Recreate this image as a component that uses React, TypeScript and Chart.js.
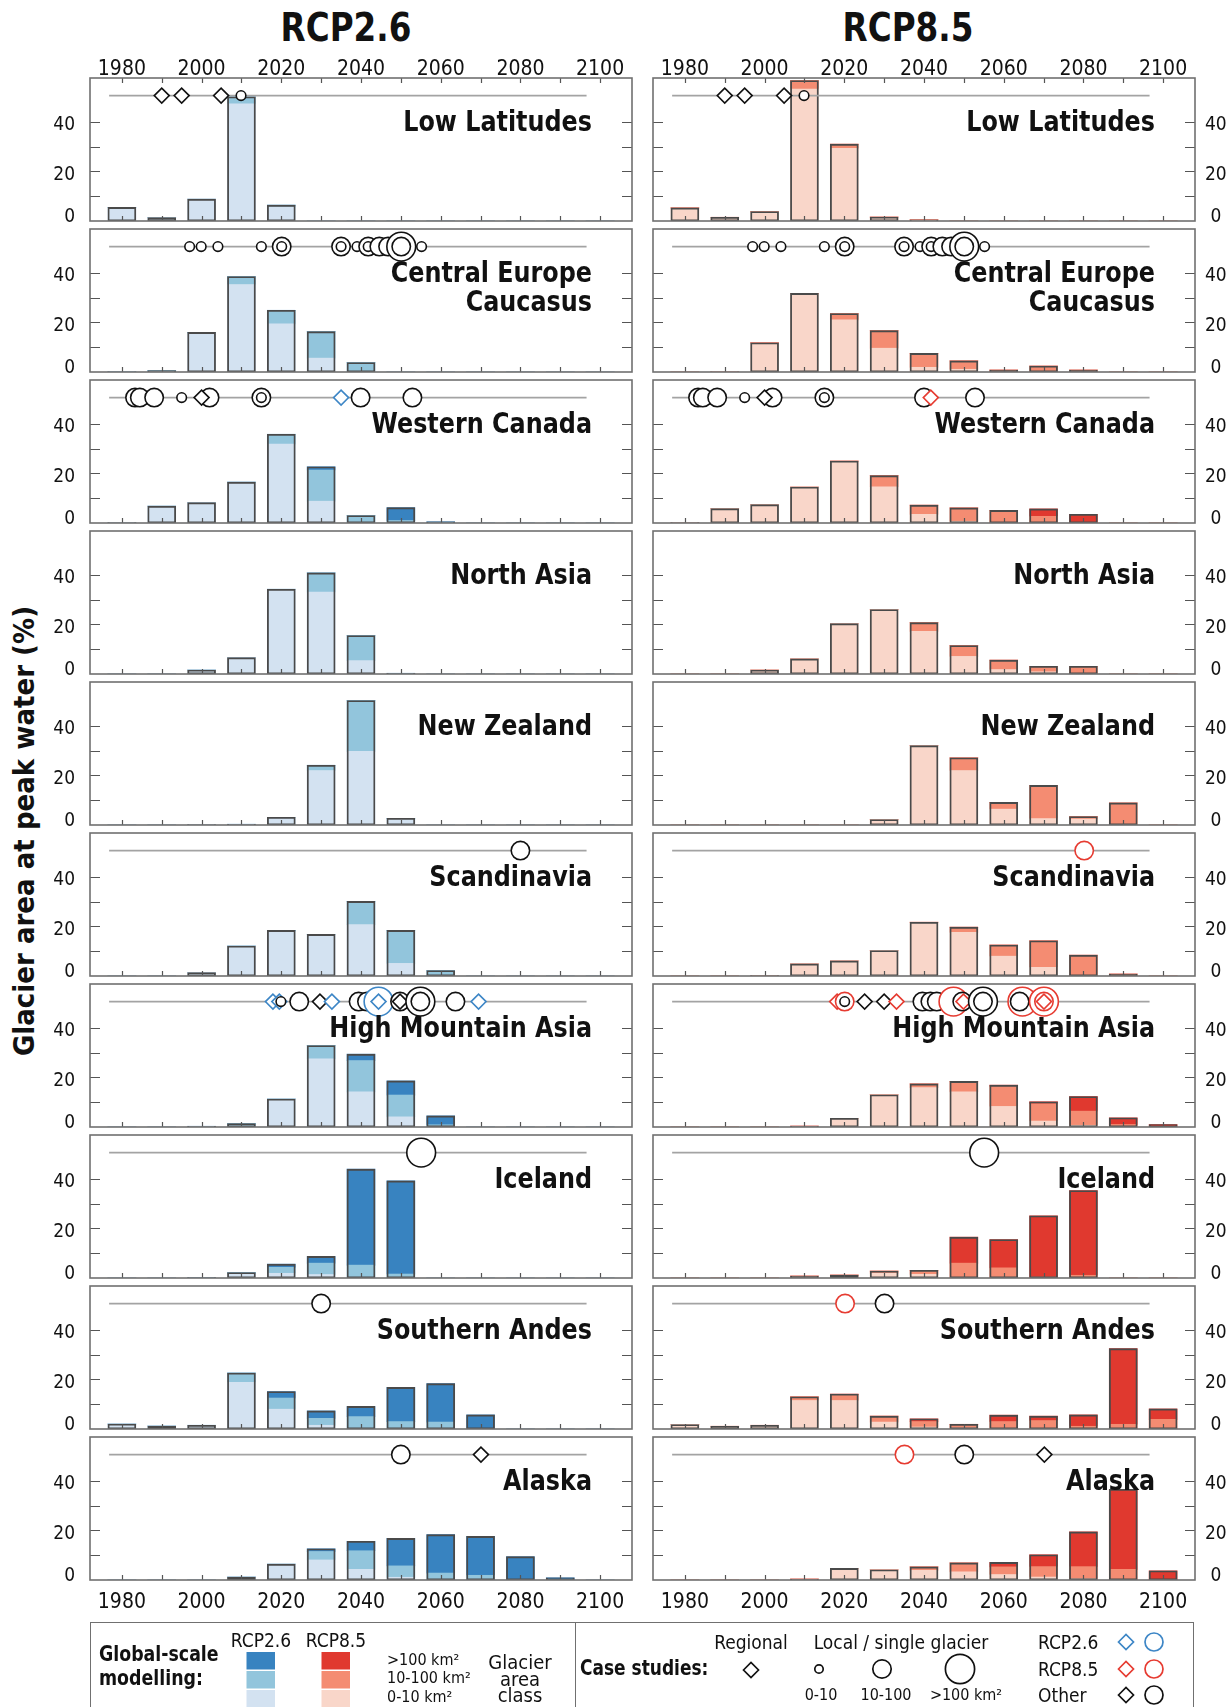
import React, { useEffect, useRef } from 'react';
import { Chart, registerables } from 'chart.js';

Chart.register(...registerables);

const FONT = '"Liberation Sans Narrow", "DejaVu Sans Condensed", "Roboto Condensed", "Arial Narrow", "Liberation Sans", sans-serif';

// ---------- data ----------
const DECADES = [1980, 1990, 2000, 2010, 2020, 2030, 2040, 2050, 2060, 2070, 2080, 2090, 2100];
const X_LABELS = [1980, 2000, 2020, 2040, 2060, 2080, 2100];
const Y_LABELS = [0, 20, 40];
const Y_MINOR = [10, 20, 30, 40];
const X_RANGE = [1972, 2108];
const Y_RANGE = [0, 57.7];
const CASE_Y = 50.6;
const CASE_LINE = [1976.8, 2096.6];

const CLASSES = ['0-10 km²', '10-100 km²', '>100 km²'];
const BLUES = ['#d3e2f1', '#92c5dc', '#3883c0'];
const REDS = ['#f9d6c9', '#f48c72', '#e0392f'];
const CASE_COLORS: Record<string, string> = { k: '#111111', b: '#3d86c6', r: '#e63b31' };
const CASE_RADII: Record<string, number> = { s: 4.8, m: 9.2, l: 14.4, d: 7.5 };

const REGIONS = ['Low Latitudes', 'Central Europe\nCaucasus', 'Western Canada', 'North Asia', 'New Zealand', 'Scandinavia', 'High Mountain Asia', 'Iceland', 'Southern Andes', 'Alaska'];

// bars per decade: [0-10 km², 10-100 km², >100 km²]
const LOW_LAT_26 = [
  [5.5, 1.35, 8.8, 47.3, 5.7, 0, 0, 0, 0, 0, 0, 0, 0],
  [0, 0, 0, 2.8, 0.7, 0, 0, 0, 0, 0, 0, 0, 0],
  [0, 0, 0, 0, 0, 0, 0, 0, 0, 0, 0, 0, 0],
];
const LOW_LAT_85 = [
  [5.1, 1.5, 3.6, 53.2, 29.3, 1.5, 0.3, 0, 0, 0, 0, 0, 0],
  [0.2, 0, 0.2, 3.5, 1.7, 0.1, 0.2, 0, 0, 0, 0, 0, 0],
  [0, 0, 0, 0, 0, 0, 0, 0, 0, 0, 0, 0, 0],
];
const CEN_EUR_26 = [
  [0, 0.3, 15.6, 35.3, 19.4, 5.6, 0.3, 0, 0, 0, 0, 0, 0],
  [0.1, 0.3, 0.4, 3.2, 5.5, 10.7, 3.5, 0, 0, 0, 0, 0, 0],
  [0, 0, 0, 0, 0, 0, 0, 0, 0, 0, 0, 0, 0],
];
const CEN_EUR_85 = [
  [0, 0.1, 11.5, 31.5, 21.0, 9.6, 1.9, 1.1, 0.1, 0.3, 0.1, 0, 0],
  [0, 0, 0.3, 0.2, 2.6, 7.1, 5.6, 3.4, 0.7, 2.1, 0.7, 0, 0],
  [0, 0, 0, 0, 0, 0, 0, 0, 0, 0, 0, 0, 0],
];
const W_CAN_26 = [
  [0.2, 6.8, 8.2, 16.0, 31.8, 8.8, 0.3, 0.3, 0, 0, 0, 0, 0],
  [0, 0, 0, 0.5, 4.0, 12.6, 2.7, 0.7, 0.1, 0, 0, 0, 0],
  [0, 0, 0, 0, 0, 1.3, 0, 5.2, 0.4, 0, 0, 0, 0],
];
const W_CAN_85 = [
  [0.2, 5.8, 7.4, 14.5, 24.7, 14.6, 3.5, 0.7, 0.2, 0.1, 0, 0, 0],
  [0, 0, 0, 0, 0.3, 4.5, 3.7, 5.4, 4.9, 2.6, 0.3, 0, 0],
  [0, 0, 0, 0, 0, 0, 0, 0, 0, 3.0, 3.2, 0, 0],
];
const N_ASIA_26 = [
  [0, 0, 1.6, 6.6, 34.2, 33.1, 5.4, 0, 0, 0, 0, 0, 0],
  [0, 0, 0, 0, 0, 7.7, 10.1, 0.1, 0, 0, 0, 0, 0],
  [0, 0, 0, 0, 0, 0, 0, 0.2, 0, 0, 0, 0, 0],
];
const N_ASIA_85 = [
  [0, 0, 1.6, 6.1, 20.3, 26.0, 17.2, 7.1, 1.8, 0.9, 0.2, 0, 0],
  [0, 0, 0, 0, 0, 0, 3.5, 4.4, 3.8, 2.2, 2.9, 0, 0],
  [0, 0, 0, 0, 0, 0, 0, 0, 0, 0, 0, 0, 0],
];
const NZ_26 = [
  [0, 0, 0.2, 0.1, 3.1, 22.0, 29.7, 2.4, 0, 0, 0, 0, 0],
  [0, 0, 0, 0.2, 0, 2.1, 20.5, 0.3, 0, 0, 0, 0, 0],
  [0, 0, 0, 0, 0, 0, 0, 0, 0, 0, 0, 0, 0],
];
const NZ_85 = [
  [0, 0, 0, 0, 0, 2.2, 32.0, 22.0, 6.4, 2.6, 2.4, 0, 0],
  [0, 0, 0, 0, 0, 0, 0, 5.1, 2.7, 13.4, 1.0, 8.9, 0],
  [0, 0, 0, 0, 0, 0, 0, 0, 0, 0, 0, 0, 0],
];
const SCAN_26 = [
  [0, 0, 1.4, 12.1, 18.0, 16.8, 20.7, 5.1, 0, 0, 0, 0, 0],
  [0, 0, 0, 0, 0.4, 0, 9.4, 13.3, 2.2, 0, 0, 0, 0],
  [0, 0, 0, 0, 0, 0, 0, 0, 0, 0, 0, 0, 0],
];
const SCAN_85 = [
  [0, 0, 0.1, 4.9, 6.1, 10.3, 21.7, 17.6, 8.0, 3.5, 0, 0, 0],
  [0, 0, 0.1, 0, 0, 0, 0, 2.1, 4.5, 10.7, 8.4, 0.8, 0],
  [0, 0, 0, 0, 0, 0, 0, 0, 0, 0, 0, 0, 0],
];
const HMA_26 = [
  [0, 0, 0.1, 0.4, 11.3, 27.5, 14.2, 4.1, 0.2, 0, 0, 0, 0],
  [0, 0, 0.1, 1.0, 0, 5.4, 12.6, 8.8, 0.7, 0, 0, 0, 0],
  [0, 0, 0.1, 0, 0, 0, 2.6, 5.7, 3.6, 0, 0, 0, 0],
];
const HMA_85 = [
  [0, 0, 0, 0.2, 3.5, 13.0, 15.9, 14.2, 8.3, 2.4, 0.7, 0.2, 0],
  [0, 0, 0, 0.1, 0, 0, 1.5, 4.2, 8.1, 7.0, 5.7, 0.8, 0],
  [0, 0, 0, 0.1, 0, 0, 0, 0, 0.5, 0.8, 5.9, 2.7, 1.0],
];
const ICE_26 = [
  [0, 0, 0, 1.6, 1.9, 1.4, 0, 0, 0, 0, 0, 0, 0],
  [0, 0, 0.1, 0.6, 2.4, 4.6, 5.2, 1.6, 0, 0, 0, 0, 0],
  [0, 0, 0.1, 0, 1.3, 2.7, 38.7, 37.6, 0, 0, 0, 0, 0],
];
const ICE_85 = [
  [0, 0, 0, 0.5, 0.8, 1.9, 1.5, 0, 0, 0, 0, 0, 0],
  [0, 0, 0, 0.3, 0.4, 0.9, 1.6, 6.0, 4.1, 0.4, 1.1, 0, 0],
  [0, 0, 0, 0, 0, 0, 0, 10.5, 11.4, 24.7, 34.2, 0, 0],
];
const S_ANDES_26 = [
  [2.0, 1.2, 1.5, 18.8, 8.0, 1.5, 0.2, 0, 0, 0, 0, 0, 0],
  [0, 0, 0, 3.8, 4.5, 2.8, 4.8, 3.0, 2.8, 0.2, 0, 0, 0],
  [0, 0, 0, 0, 2.6, 3.0, 4.1, 13.8, 15.5, 5.5, 0, 0, 0],
];
const S_ANDES_85 = [
  [1.8, 1.1, 1.5, 11.5, 11.5, 2.8, 0.8, 0.4, 0.3, 0.3, 0, 0, 0],
  [0, 0, 0, 1.5, 2.3, 2.4, 2.2, 1.5, 2.7, 3.1, 1.1, 1.9, 3.9],
  [0, 0, 0, 0, 0.3, 0, 1.1, 0, 2.6, 1.8, 4.6, 30.5, 4.2],
];
const ALASKA_26 = [
  [0, 0, 0, 1.2, 6.4, 8.1, 4.3, 1.1, 0, 0, 0, 0, 0],
  [0, 0, 0, 0, 0, 3.4, 7.5, 4.6, 2.8, 1.9, 0.3, 0, 0],
  [0, 0, 0, 0, 0, 1.1, 3.8, 11.1, 15.5, 15.7, 9.1, 0.9, 0],
];
const ALASKA_85 = [
  [0, 0, 0, 0.2, 4.7, 4.1, 3.9, 3.3, 2.2, 1.2, 0.5, 0, 0],
  [0, 0, 0, 0.2, 0, 0, 1.4, 3.6, 3.1, 4.2, 4.9, 4.3, 0],
  [0, 0, 0, 0, 0, 0, 0, 0, 1.8, 4.8, 14.0, 32.3, 3.7],
];

// case studies: [year, colour (k other / b RCP2.6 / r RCP8.5) + kind (s,m,l circle sizes, d regional)]
type Case = [number, string];
const LOW_LAT_CASES: Case[] = [[1990, 'kd'], [1995, 'kd'], [2004.9, 'kd'], [2009.9, 'ks']];
const CEN_EUR_CASES: Case[] = [
  [1997.0, 'ks'], [1999.9, 'ks'], [2004.1, 'ks'], [2015.0, 'ks'], [2020.1, 'km'], [2020.1, 'ks'],
  [2035.0, 'km'], [2035.0, 'ks'], [2039.0, 'ks'], [2041.8, 'km'], [2041.8, 'ks'], [2044.6, 'km'],
  [2046.8, 'km'], [2050.1, 'kl'], [2050.1, 'km'], [2055.2, 'ks'],
];
const W_CAN_CASES_26: Case[] = [
  [1983.3, 'km'], [1984.5, 'km'], [1988.1, 'km'], [1995.0, 'ks'], [2002.0, 'km'], [2000.0, 'kd'],
  [2015.0, 'km'], [2015.0, 'ks'], [2035.0, 'bd'], [2039.9, 'km'], [2052.9, 'km'],
];
const W_CAN_CASES_85: Case[] = [
  [1983.3, 'km'], [1984.5, 'km'], [1988.1, 'km'], [1995.0, 'ks'], [2002.0, 'km'], [2000.0, 'kd'],
  [2015.0, 'km'], [2015.0, 'ks'], [2040.0, 'km'], [2041.7, 'rd'], [2052.8, 'km'],
];
const SCAN_CASES_26: Case[] = [[2080.0, 'km']];
const SCAN_CASES_85: Case[] = [[2080.2, 'rm']];
const HMA_CASES_26: Case[] = [
  [2017.9, 'bd'], [2019.5, 'bd'], [2019.9, 'ks'], [2024.5, 'km'], [2029.7, 'kd'], [2032.7, 'bd'],
  [2039.4, 'km'], [2041.5, 'km'], [2044.4, 'bl'], [2044.4, 'bd'], [2049.8, 'km'], [2049.8, 'kd'],
  [2054.9, 'kl'], [2054.9, 'km'], [2063.7, 'km'], [2069.5, 'bd'],
];
const HMA_CASES_85: Case[] = [
  [2018.2, 'rd'], [2020.1, 'rm'], [2020.1, 'ks'], [2025.1, 'kd'], [2030.0, 'kd'], [2033.1, 'rd'],
  [2039.6, 'km'], [2041.6, 'km'], [2043.2, 'km'], [2047.4, 'rl'], [2049.6, 'km'], [2049.9, 'rd'],
  [2054.8, 'kl'], [2054.8, 'km'], [2064.7, 'rl'], [2064.0, 'km'], [2070.1, 'rl'], [2070.1, 'rm'], [2070.1, 'rd'],
];
const ICE_CASES: Case[] = [[2055.1, 'kl']];
const S_ANDES_CASES_26: Case[] = [[2030.0, 'km']];
const S_ANDES_CASES_85: Case[] = [[2020.2, 'rm'], [2030.1, 'km']];
const ALASKA_CASES_26: Case[] = [[2050.0, 'km'], [2070.1, 'kd']];
const ALASKA_CASES_85: Case[] = [[2035.1, 'rm'], [2050.1, 'km'], [2070.2, 'kd']];

const BARS_26 = [LOW_LAT_26, CEN_EUR_26, W_CAN_26, N_ASIA_26, NZ_26, SCAN_26, HMA_26, ICE_26, S_ANDES_26, ALASKA_26];
const BARS_85 = [LOW_LAT_85, CEN_EUR_85, W_CAN_85, N_ASIA_85, NZ_85, SCAN_85, HMA_85, ICE_85, S_ANDES_85, ALASKA_85];
const CASES_26 = [LOW_LAT_CASES, CEN_EUR_CASES, W_CAN_CASES_26, null, null, SCAN_CASES_26, HMA_CASES_26, ICE_CASES, S_ANDES_CASES_26, ALASKA_CASES_26];
const CASES_85 = [LOW_LAT_CASES, CEN_EUR_CASES, W_CAN_CASES_85, null, null, SCAN_CASES_85, HMA_CASES_85, ICE_CASES, S_ANDES_CASES_85, ALASKA_CASES_85];

// ---------- layout (styles) ----------
const PLOT_LEFT = [90, 653];
const PLOT_W = 542;
const ROW_TOP = 78;
const ROW_STEP = 151;
const PLOT_H = 143;
const PAD = 40;
const ZERO_LABEL_LIFT = 3.1; // the "0" label sits a little above the baseline
const Y_LABEL_SHIFT = 3.3;

function Panel({ row, col, bars, cases }: { row: number; col: number; bars: number[][]; cases: Case[] | null }) {
  const ref = useRef<HTMLCanvasElement>(null);
  const isTop = row === 0;
  const isBottom = row === 9;
  const canvasLeft = col === 0 ? 0 : PLOT_LEFT[1] - 10;
  const canvasW = col === 0 ? PLOT_LEFT[0] + PLOT_W + 8 : 1229 - canvasLeft;
  const canvasTop = ROW_TOP + ROW_STEP * row - PAD;
  const canvasH = PLOT_H + 2 * PAD;

  useEffect(() => {
    const pal = col === 0 ? BLUES : REDS;
    const datasets: any[] = [];
    bars.forEach((vals, k) => {
      datasets.push({
        type: 'bar',
        label: CLASSES[k],
        data: DECADES.map((d, i) => ({ x: d, y: vals[i] })),
        backgroundColor: pal[k],
        borderWidth: 0,
        barThickness: 28,
        stack: 'classes',
        order: 3,
        xAxisID: 'x',
        yAxisID: 'y',
      });
    });
    // outline of each decade's total, same group, on an unstacked twin value axis
    datasets.push({
      type: 'bar',
      label: 'total',
      data: DECADES.map((d, i) => {
        const t = bars.reduce((s, v) => s + v[i], 0);
        return { x: d, y: t > 0 ? t : null };
      }),
      backgroundColor: 'rgba(0,0,0,0)',
      borderColor: '#4a4a4a',
      borderWidth: 1.2,
      borderSkipped: false,
      barThickness: 28,
      stack: 'classes',
      order: 2,
      xAxisID: 'x',
      yAxisID: 'yo',
    });
    if (cases) {
      datasets.push({
        type: 'line',
        label: 'line',
        data: CASE_LINE.map((x) => ({ x, y: CASE_Y })),
        borderColor: '#a3a3a3',
        borderWidth: 1.6,
        pointRadius: 0,
        fill: false,
        order: 1,
        clip: false,
        xAxisID: 'x',
        yAxisID: 'yo',
      });
      datasets.push({
        type: 'scatter',
        label: 'cases',
        data: cases.map((c) => ({ x: c[0], y: CASE_Y })),
        pointStyle: cases.map((c) => (c[1][1] === 'd' ? 'rectRot' : 'circle')),
        pointRadius: cases.map((c) => CASE_RADII[c[1][1]]),
        pointBorderColor: cases.map((c) => CASE_COLORS[c[1][0]]),
        pointBackgroundColor: '#ffffff',
        pointBorderWidth: 1.6,
        order: 0,
        clip: false,
        xAxisID: 'x',
        yAxisID: 'yo',
      });
    }

    const deco = {
      id: 'deco',
      afterDatasetsDraw(chart: any) {
        const { ctx, chartArea: a, scales } = chart;
        const xs = scales.x;
        const ys = scales.y;
        ctx.save();
        ctx.strokeStyle = '#555555';
        ctx.lineWidth = 1.2;
        ctx.beginPath();
        Y_MINOR.forEach((v) => {
          const py = Math.round(ys.getPixelForValue(v)) + 0.5;
          ctx.moveTo(a.left, py);
          ctx.lineTo(a.left + 10, py);
          ctx.moveTo(a.right, py);
          ctx.lineTo(a.right - 10, py);
        });
        DECADES.forEach((d) => {
          const px = Math.round(xs.getPixelForValue(d)) + 0.5;
          ctx.moveTo(px, a.bottom);
          ctx.lineTo(px, a.bottom - 5);
          if (isTop) {
            ctx.moveTo(px, a.top);
            ctx.lineTo(px, a.top + 5);
          }
        });
        ctx.stroke();
        ctx.strokeStyle = '#707070';
        ctx.lineWidth = 1.6;
        ctx.strokeRect(a.left, a.top, a.right - a.left, a.bottom - a.top);
        ctx.restore();
      },
    };

    const chart = new Chart(ref.current as HTMLCanvasElement, {
      type: 'bar',
      data: { datasets },
      options: {
        responsive: false,
        animation: false,
        devicePixelRatio: 1,
        events: [],
        layout: {
          autoPadding: false,
          padding: {
            left: col === 0 ? 0 : 10,
            right: col === 0 ? 8 : 0,
            top: isTop ? 0 : PAD,
            bottom: isBottom ? 0 : PAD,
          },
        },
        plugins: { legend: { display: false }, tooltip: { enabled: false }, title: { display: false } },
        scales: {
          x: {
            type: 'linear',
            position: isBottom ? 'bottom' : 'top',
            display: isTop || isBottom,
            min: X_RANGE[0],
            max: X_RANGE[1],
            offset: false,
            grid: { display: false, drawTicks: false },
            border: { display: false },
            afterBuildTicks: (s: any) => {
              s.ticks = X_LABELS.map((v) => ({ value: v }));
            },
            afterFit: (s: any) => {
              if (isTop || isBottom) s.height = PAD;
            },
            ticks: {
              font: { family: FONT, size: 21 },
              color: '#111',
              padding: isTop ? -4 : 10,
              maxRotation: 0,
              autoSkip: false,
              callback: (v: any) => String(v),
            },
          },
          y: {
            type: 'linear',
            position: col === 0 ? 'left' : 'right',
            stacked: true,
            min: Y_RANGE[0],
            max: Y_RANGE[1],
            grid: { display: false, drawTicks: false },
            border: { display: false },
            afterBuildTicks: (s: any) => {
              s.ticks = Y_LABELS.map((v) => ({ value: v === 0 ? ZERO_LABEL_LIFT : v }));
            },
            afterFit: (s: any) => {
              s.width = col === 0 ? PLOT_LEFT[0] : canvasW - 10 - PLOT_W;
            },
            ticks: {
              font: { family: FONT, size: 19 },
              color: '#111',
              padding: col === 0 ? 15 : 10,
              labelOffset: Y_LABEL_SHIFT,
              crossAlign: col === 0 ? 'near' : 'center',
              callback: (_v: any, i: number) => String(Y_LABELS[i]),
            },
          },
          yo: { type: 'linear', display: false, min: Y_RANGE[0], max: Y_RANGE[1], stacked: false },
        },
      } as any,
      plugins: [deco],
    });
    return () => chart.destroy();
  }, []);

  return (
    <canvas
      ref={ref}
      width={canvasW}
      height={canvasH}
      style={{ position: 'absolute', left: canvasLeft, top: canvasTop, width: canvasW, height: canvasH }}
    />
  );
}

function T({ x, y, size, bold, align = 'left', color = '#111', sx = 1, children }: any) {
  const shift = align === 'center' ? '-50%' : align === 'right' ? '-100%' : '0';
  const origin = align === 'center' ? 'center' : align === 'right' ? 'right' : 'left';
  return (
    <div
      style={{
        position: 'absolute',
        left: x,
        top: y - size * 0.6,
        height: size * 1.2,
        lineHeight: `${size * 1.2}px`,
        fontSize: size,
        fontWeight: bold ? 700 : 400,
        fontFamily: FONT,
        color,
        whiteSpace: 'nowrap',
        transformOrigin: `${origin} center`,
        transform: `translateX(${shift}) scaleX(${sx})`,
      }}
    >
      {children}
    </div>
  );
}

function Legend() {
  const sq = (x: number, y: number, c: string) => <rect x={x} y={y} width={28.5} height={17.5} fill={c} />;
  const dia = (cx: number, cy: number, r: number, c: string) => (
    <path d={`M${cx - r} ${cy} L${cx} ${cy - r} L${cx + r} ${cy} L${cx} ${cy + r} Z`} fill="#fff" stroke={c} strokeWidth={1.7} />
  );
  const circ = (cx: number, cy: number, r: number, c: string) => <circle cx={cx} cy={cy} r={r} fill="#fff" stroke={c} strokeWidth={1.7} />;
  return (
    <>
      <div style={{ position: 'absolute', left: 90, top: 1622, width: 1104, height: 90, border: '1.5px solid #707070', borderBottom: 'none', boxSizing: 'border-box' }} />
      <div style={{ position: 'absolute', left: 575, top: 1622, width: 0, height: 90, borderLeft: '1.5px solid #707070' }} />
      <svg width={1229} height={1707} style={{ position: 'absolute', left: 0, top: 0, pointerEvents: 'none' }}>
        {sq(246.5, 1652, BLUES[2])}
        {sq(246.5, 1671, BLUES[1])}
        {sq(246.5, 1690, BLUES[0])}
        {sq(321.5, 1652, REDS[2])}
        {sq(321.5, 1671, REDS[1])}
        {sq(321.5, 1690, REDS[0])}
        {dia(751, 1670, 7.5, '#111')}
        {circ(819, 1669, 4.2, '#111')}
        {circ(882, 1669, 9.2, '#111')}
        {circ(960, 1669, 14.6, '#111')}
        {dia(1126, 1642, 7.5, CASE_COLORS.b)}
        {dia(1126, 1669, 7.5, CASE_COLORS.r)}
        {dia(1126, 1695, 7.5, CASE_COLORS.k)}
        {circ(1154, 1642, 9, CASE_COLORS.b)}
        {circ(1154, 1669, 9, CASE_COLORS.r)}
        {circ(1154, 1695, 9, CASE_COLORS.k)}
      </svg>
      <T x={99} y={1655} size={21} bold sx={0.92}>Global-scale</T>
      <T x={99} y={1679} size={21} bold sx={0.92}>modelling:</T>
      <T x={261} y={1640} size={19} align="center">RCP2.6</T>
      <T x={336} y={1640} size={19} align="center">RCP8.5</T>
      <T x={387} y={1660} size={16}>{'>100 km²'}</T>
      <T x={387} y={1678} size={16}>10-100 km²</T>
      <T x={387} y={1697} size={16}>0-10 km²</T>
      <T x={520} y={1662} size={20} align="center">Glacier</T>
      <T x={520} y={1679} size={20} align="center">area</T>
      <T x={520} y={1695} size={20} align="center">class</T>
      <T x={580} y={1669} size={21} bold sx={0.9}>Case studies:</T>
      <T x={751} y={1642} size={19} align="center">Regional</T>
      <T x={901} y={1642} size={19} align="center">Local / single glacier</T>
      <T x={821} y={1695} size={16} align="center">0-10</T>
      <T x={886} y={1695} size={16} align="center">10-100</T>
      <T x={966} y={1695} size={16} align="center">{'>100 km²'}</T>
      <T x={1038} y={1642} size={19}>RCP2.6</T>
      <T x={1038} y={1669} size={19}>RCP8.5</T>
      <T x={1038} y={1695} size={19}>Other</T>
    </>
  );
}

export default function App() {
  return (
    <div style={{ position: 'absolute', left: 0, top: 0, width: 1229, height: 1707, overflow: 'hidden', background: '#fff', fontFamily: FONT }}>
      <T x={346} y={28} size={39} bold align="center" sx={0.93}>RCP2.6</T>
      <T x={908} y={28} size={39} bold align="center" sx={0.93}>RCP8.5</T>
      <div
        style={{
          position: 'absolute',
          left: 24 - 300,
          top: 831 - 17,
          width: 600,
          height: 34,
          lineHeight: '34px',
          textAlign: 'center',
          transform: 'rotate(-90deg)',
          fontFamily: FONT,
          fontWeight: 700,
          fontSize: 29,
          color: '#111',
        }}
      >
        Glacier area at peak water (%)
      </div>
      {REGIONS.map((name, r) => (
        <React.Fragment key={name}>
          <Panel row={r} col={0} bars={BARS_26[r]} cases={CASES_26[r]} />
          <Panel row={r} col={1} bars={BARS_85[r]} cases={CASES_85[r]} />
        </React.Fragment>
      ))}
      {REGIONS.map((name, r) =>
        [0, 1].map((c) =>
          name.split('\n').map((line, li) => (
            <T key={`${name}-${c}-${li}`} x={PLOT_LEFT[c] + PLOT_W - 40} y={ROW_TOP + ROW_STEP * r + 43 + li * 29} size={29} bold align="right" sx={0.915}>
              {line}
            </T>
          ))
        )
      )}
      <Legend />
    </div>
  );
}
